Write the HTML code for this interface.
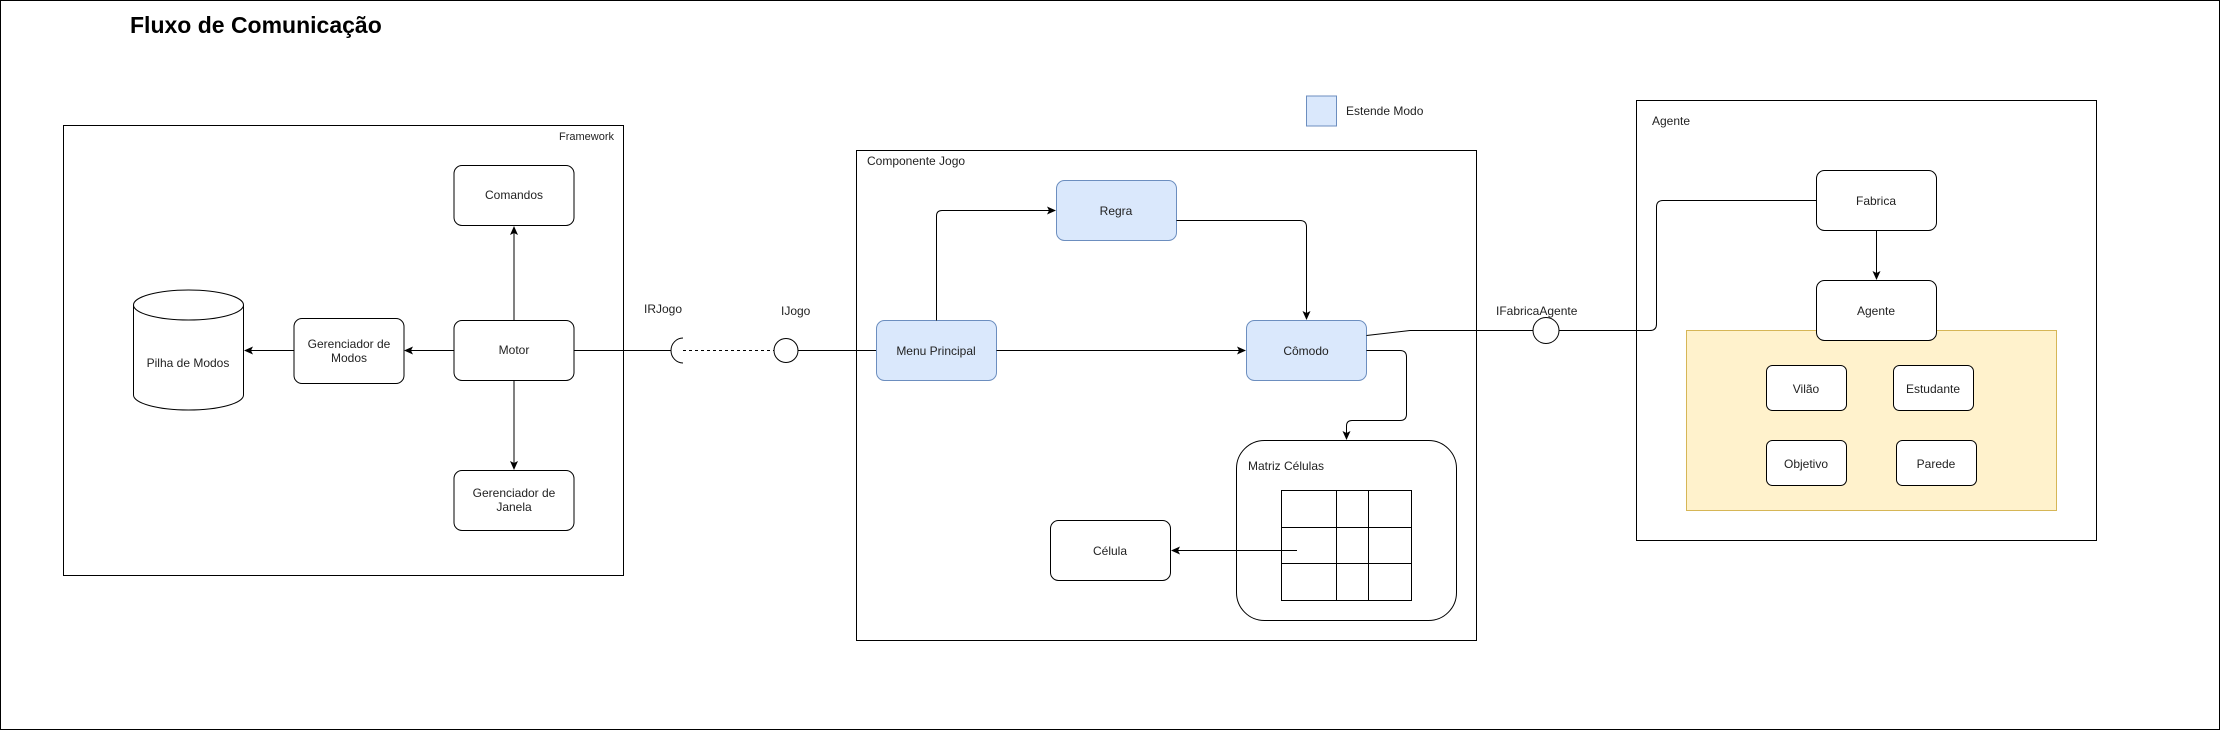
<!DOCTYPE html>
<html><head><meta charset="utf-8"><style>
html,body{margin:0;padding:0;background:#fff;}
svg{display:block;}
text{font-family:"Liberation Sans",sans-serif;font-size:12px;fill:#222;}
</style></head><body>
<svg width="2221" height="731" viewBox="0 0 2221 731" xmlns="http://www.w3.org/2000/svg">
<defs>
<marker id="a" markerWidth="10" markerHeight="10" refX="8" refY="5" orient="auto" markerUnits="userSpaceOnUse">
<path d="M0,1 L9,5 L0,9 L2,5 Z" fill="#000"/>
</marker>
</defs>
<rect x="0.5" y="0.5" width="2219" height="729" fill="#fff" stroke="#000"/>
<text x="130" y="33" style="font-size:23px;font-weight:bold;fill:#000">Fluxo de Comunicação</text>

<!-- Framework -->
<rect x="63.5" y="125.5" width="560" height="450" fill="none" stroke="#000"/>
<text x="614" y="140" text-anchor="end" style="font-size:11px">Framework</text>
<g fill="#fff" stroke="#000">
<rect x="454" y="165.5" width="120" height="60" rx="8"/>
<rect x="454" y="320.5" width="120" height="60" rx="8"/>
<rect x="294" y="318.5" width="110" height="65" rx="8"/>
<rect x="454" y="470.5" width="120" height="60" rx="8"/>
<path d="M133.5,305 A55,15 0 0 1 243.5,305 L243.5,395 A55,15 0 0 1 133.5,395 Z"/>
<path d="M133.5,305 A55,15 0 0 0 243.5,305" fill="none"/>
</g>
<text x="514" y="199" text-anchor="middle">Comandos</text>
<text x="514" y="354" text-anchor="middle">Motor</text>
<text x="349" y="348" text-anchor="middle">Gerenciador de</text>
<text x="349" y="362" text-anchor="middle">Modos</text>
<text x="514" y="497" text-anchor="middle">Gerenciador de</text>
<text x="514" y="511" text-anchor="middle">Janela</text>
<text x="188" y="367" text-anchor="middle">Pilha de Modos</text>
<g stroke="#000" fill="none">
<line x1="514" y1="320.5" x2="514" y2="227" marker-end="url(#a)"/>
<line x1="514" y1="380.5" x2="514" y2="469" marker-end="url(#a)"/>
<line x1="454" y1="350.5" x2="405" y2="350.5" marker-end="url(#a)"/>
<line x1="294" y1="350.5" x2="245" y2="350.5" marker-end="url(#a)"/>
<line x1="574" y1="350.5" x2="671" y2="350.5"/>
<path d="M683,338 A12,12.5 0 0 0 683,363"/>
<line x1="683" y1="350.5" x2="774" y2="350.5" stroke-dasharray="3,3"/>
<circle cx="786" cy="350.5" r="12" fill="#fff"/>
<line x1="798" y1="350.5" x2="876" y2="350.5"/>
</g>
<text x="644" y="313" style="font-size:12px">IRJogo</text>
<text x="781" y="315">IJogo</text>

<!-- Legend -->
<rect x="1306.5" y="96" width="30" height="30" fill="#dae8fc" stroke="#6c8ebf"/>
<text x="1346" y="115">Estende  Modo</text>

<!-- Componente Jogo -->
<rect x="856.5" y="150.5" width="620" height="490" fill="none" stroke="#000"/>
<text x="867" y="165">Componente Jogo</text>
<g fill="#dae8fc" stroke="#6c8ebf">
<rect x="876.5" y="320.5" width="120" height="60" rx="8"/>
<rect x="1056.5" y="180.5" width="120" height="60" rx="8"/>
<rect x="1246.5" y="320.5" width="120" height="60" rx="8"/>
</g>
<text x="936" y="355" text-anchor="middle">Menu Principal</text>
<text x="1116" y="215" text-anchor="middle">Regra</text>
<text x="1306" y="355" text-anchor="middle">Cômodo</text>
<rect x="1236.5" y="440.5" width="220" height="180" rx="28" fill="#fff" stroke="#000"/>
<text x="1248" y="470">Matriz Células</text>
<g stroke="#000" fill="none">
<rect x="1281.5" y="490.5" width="130" height="110"/>
<line x1="1336.5" y1="490.5" x2="1336.5" y2="600.5"/>
<line x1="1368.5" y1="490.5" x2="1368.5" y2="600.5"/>
<line x1="1281.5" y1="527.5" x2="1411.5" y2="527.5"/>
<line x1="1281.5" y1="563.5" x2="1411.5" y2="563.5"/>
</g>
<rect x="1050.5" y="520.5" width="120" height="60" rx="8" fill="#fff" stroke="#000"/>
<text x="1110" y="555" text-anchor="middle">Célula</text>
<g stroke="#000" fill="none">
<path d="M936.5,320.5 L936.5,216 Q936.5,210.5 942,210.5 L1055,210.5" marker-end="url(#a)"/>
<path d="M1176.5,220.5 L1300,220.5 Q1306.5,220.5 1306.5,227 L1306.5,319" marker-end="url(#a)"/>
<line x1="996.5" y1="350.5" x2="1245" y2="350.5" marker-end="url(#a)"/>
<path d="M1366.5,350.5 L1400,350.5 Q1406.5,350.5 1406.5,357 L1406.5,414 Q1406.5,420.5 1400,420.5 L1352,420.5 Q1346.5,420.5 1346.5,426 L1346.5,439" marker-end="url(#a)"/>
<line x1="1297" y1="550.5" x2="1172" y2="550.5" marker-end="url(#a)"/>
<path d="M1366.5,335.5 L1410,330.5 L1533,330.5"/>
<circle cx="1546" cy="330.5" r="13" fill="#fff"/>
<path d="M1559,330.5 L1650,330.5 Q1656.5,330.5 1656.5,324 L1656.5,207 Q1656.5,200.5 1663,200.5 L1816,200.5"/>
</g>
<text x="1496" y="315">IFabricaAgente</text>

<!-- Agente -->
<rect x="1636.5" y="100.5" width="460" height="440" fill="none" stroke="#000"/>
<text x="1652" y="125">Agente</text>
<rect x="1686.5" y="330.5" width="370" height="180" fill="#fff2cc" stroke="#d6b656"/>
<g fill="#fff" stroke="#000">
<rect x="1816.5" y="170.5" width="120" height="60" rx="8"/>
<rect x="1816.5" y="280.5" width="120" height="60" rx="8"/>
<rect x="1766.5" y="365.5" width="80" height="45" rx="6"/>
<rect x="1893.5" y="365.5" width="80" height="45" rx="6"/>
<rect x="1766.5" y="440.5" width="80" height="45" rx="6"/>
<rect x="1896.5" y="440.5" width="80" height="45" rx="6"/>
</g>
<line x1="1876.5" y1="230.5" x2="1876.5" y2="279" stroke="#000" marker-end="url(#a)"/>
<text x="1876" y="205" text-anchor="middle">Fabrica</text>
<text x="1876" y="315" text-anchor="middle">Agente</text>
<text x="1806" y="393" text-anchor="middle">Vilão</text>
<text x="1933" y="393" text-anchor="middle">Estudante</text>
<text x="1806" y="468" text-anchor="middle">Objetivo</text>
<text x="1936" y="468" text-anchor="middle">Parede</text>
</svg>
</body></html>
